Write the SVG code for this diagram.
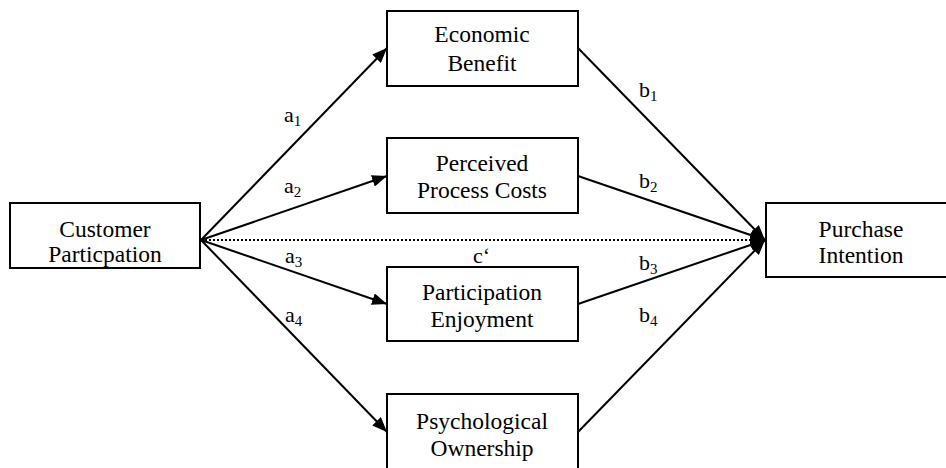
<svg xmlns="http://www.w3.org/2000/svg" width="946" height="468" viewBox="0 0 946 468">
<style>
text{font-family:'Liberation Serif','Times New Roman','DejaVu Serif',serif;fill:#000}
.box{fill:#fff;stroke:#000;stroke-width:2}
.t{font-size:23.5px;text-anchor:middle}
.lb{font-size:22px}
.sub{font-size:15px}
.ln{stroke:#000;stroke-width:2;fill:none}
.dot{stroke:#000;stroke-width:2;fill:none;stroke-dasharray:2,2}
</style>
<defs>
<marker id="ah" markerUnits="userSpaceOnUse" markerWidth="16" markerHeight="12" refX="15" refY="6" orient="auto">
<path d="M0,0 L15,6 L0,12 z" fill="#000"/>
</marker>
</defs>
<rect width="946" height="468" fill="#fff"/>
<g id="connectors">
<line class="ln" x1="201" y1="240" x2="387" y2="48" marker-end="url(#ah)"/>
<line class="ln" x1="201" y1="240" x2="387" y2="176" marker-end="url(#ah)"/>
<line class="ln" x1="201" y1="240" x2="387" y2="304" marker-end="url(#ah)"/>
<line class="ln" x1="201" y1="240" x2="387" y2="432" marker-end="url(#ah)"/>
<line class="ln" x1="578" y1="48" x2="765" y2="240" marker-end="url(#ah)"/>
<line class="ln" x1="578" y1="176" x2="765" y2="240" marker-end="url(#ah)"/>
<line class="ln" x1="578" y1="304" x2="765" y2="240" marker-end="url(#ah)"/>
<line class="ln" x1="578" y1="432" x2="765" y2="240" marker-end="url(#ah)"/>
<line class="dot" x1="201" y1="240" x2="765" y2="240" marker-end="url(#ah)"/>
<text class="lb" font-family="Liberation Serif, serif" x="284" y="122">a<tspan class="sub" dy="4">1</tspan></text>
<text class="lb" font-family="Liberation Serif, serif" x="284" y="193">a<tspan class="sub" dy="4">2</tspan></text>
<text class="lb" font-family="Liberation Serif, serif" x="285" y="263">a<tspan class="sub" dy="4">3</tspan></text>
<text class="lb" font-family="Liberation Serif, serif" x="285" y="322">a<tspan class="sub" dy="4">4</tspan></text>
<text class="lb" font-family="Liberation Serif, serif" x="639" y="97">b<tspan class="sub" dy="4">1</tspan></text>
<text class="lb" font-family="Liberation Serif, serif" x="639" y="188">b<tspan class="sub" dy="4">2</tspan></text>
<text class="lb" font-family="Liberation Serif, serif" x="639" y="270">b<tspan class="sub" dy="4">3</tspan></text>
<text class="lb" font-family="Liberation Serif, serif" x="639" y="322">b<tspan class="sub" dy="4">4</tspan></text>
<text class="lb" font-family="Liberation Serif, serif" x="473" y="263">c‘</text>
</g>
<g id="customer">
<rect class="box" x="10" y="203" width="190" height="65"/>
<text class="t" x="105" y="237">Customer</text>
<text class="t" x="105" y="262">Particpation</text>
</g>
<g id="economic">
<rect class="box" x="387" y="11" width="191" height="75"/>
<text class="t" x="482" y="42">Economic</text>
<text class="t" x="482" y="71">Benefit</text>
</g>
<g id="costs">
<rect class="box" x="387" y="138" width="191" height="75"/>
<text class="t" x="482" y="171">Perceived</text>
<text class="t" x="482" y="198">Process Costs</text>
</g>
<g id="enjoyment">
<rect class="box" x="387" y="267" width="191" height="74"/>
<text class="t" x="482" y="300">Participation</text>
<text class="t" x="482" y="327">Enjoyment</text>
</g>
<g id="ownership">
<rect class="box" x="387" y="394" width="191" height="80"/>
<text class="t" x="482" y="429">Psychological</text>
<text class="t" x="482" y="456">Ownership</text>
</g>
<g id="purchase">
<rect class="box" x="766" y="203" width="191" height="74"/>
<text class="t" x="861" y="237">Purchase</text>
<text class="t" x="861" y="263">Intention</text>
</g>
</svg>
